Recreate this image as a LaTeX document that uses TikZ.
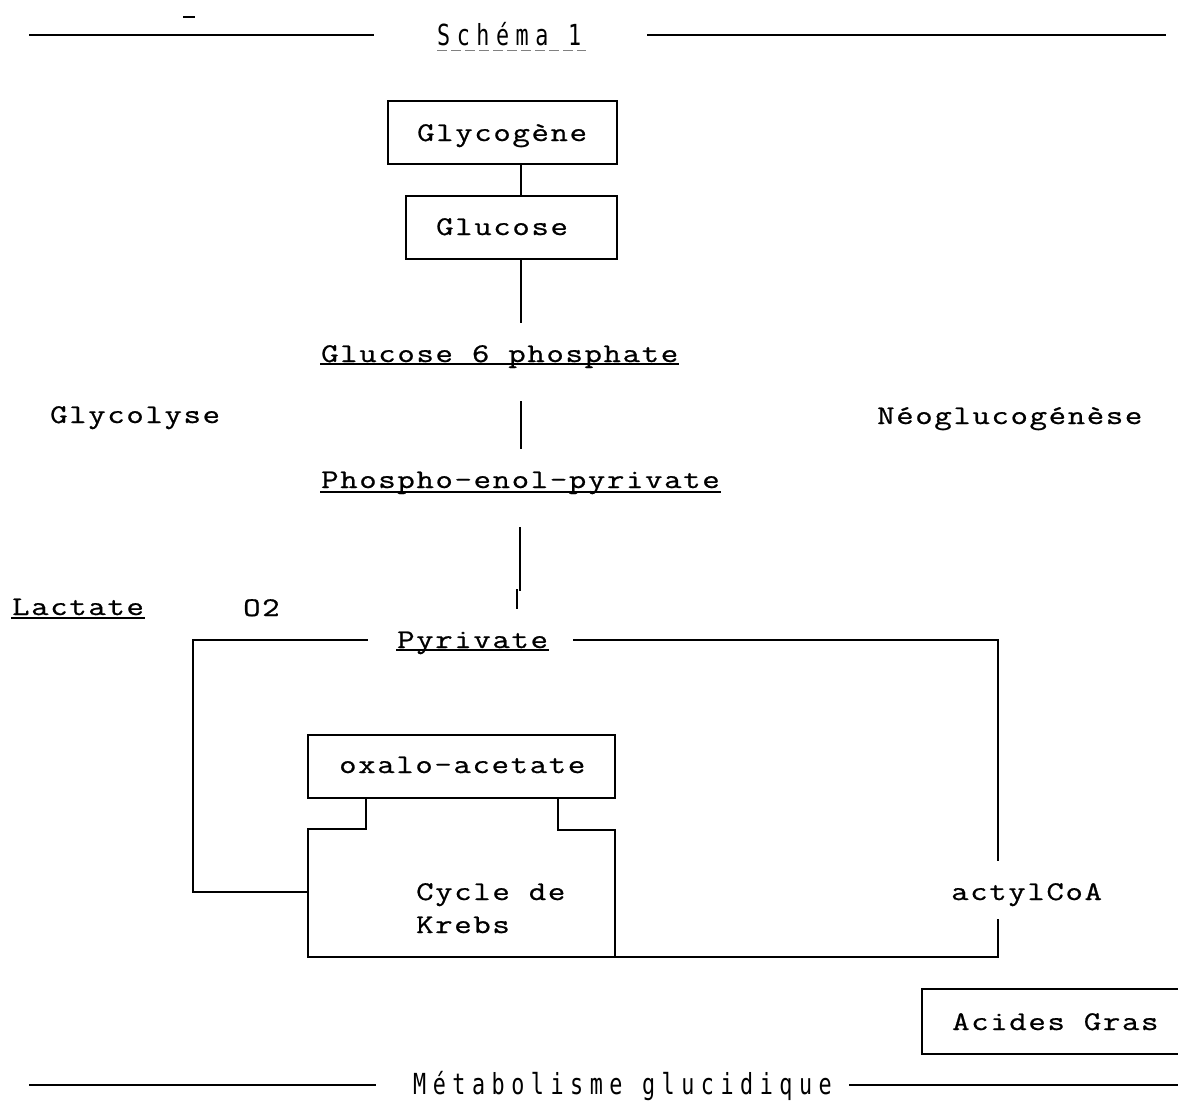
\documentclass[tikz,border=0pt]{standalone}
\usepackage{fontspec}
\newfontfamily\cour{Latin Modern Mono}[FakeStretch=1.25,LetterSpace=6.2,FakeBold=0.8]
\newfontfamily\narr{DejaVu Sans Mono}[FakeStretch=0.75,LetterSpace=22.5]
\begin{document}
\begin{tikzpicture}[x=1pt,y=-1pt,
  ln/.style={line width=1.3pt,line cap=rect},
  box/.style={draw,line width=1.3pt,inner sep=0,minimum width=#1,minimum height=63pt},
  txt/.style={inner sep=0,anchor=base west,font={\cour\fontsize{27}{31}\selectfont}},
  ttl/.style={inner sep=0,anchor=base west,font={\narr\fontsize{29}{33}\selectfont}}]
\path[use as bounding box,fill=white] (0,0) rectangle (1178,1101);
\clip (0,0) rectangle (1178,1101);
% title
\draw[ln] (30,35) -- (373,35);
\draw[ln] (648,35) -- (1165,35);
\draw[line width=2.2pt] (183,17) -- (195,17);
\node[ttl] (sch) at (437,45) {Schéma 1};
\draw[line width=0.8pt,gray,dash pattern=on 10pt off 4pt] (sch.base west |- 0,50) -- (586,50);
% boxes
\node[box=229pt] (gly) at (502.5,132.5) {};
\node[txt] (glyt) at (417,141) {Glycogène};
\node[box=211pt] (glu) at (511.5,227.5) {};
\node[txt] (glut) at (436,235) {Glucose};
\coordinate (vx) at (521,0);
\draw[ln] (gly.south -| vx) -- (glu.north -| vx);
\coordinate (g1) at (521,322);
\draw[ln] (glu.south -| vx) -- (g1);
% G6P
\node[txt] (g6p) at (321,362) {Glucose 6 phosphate};
\draw[ln] ([yshift=-2pt]g6p.base west) -- ([yshift=-2pt]g6p.base east);
\node[txt] (glyco) at (50,423) {Glycolyse};
\node[txt] (neo) at (877,424) {Néoglucogénèse};
\coordinate (g2) at (521,402);
\coordinate (g3) at (521,448);
\draw[ln] (g2) -- (g3);
\node[txt] (pep) at (321,488) {Phospho-enol-pyrivate};
\draw[ln] ([yshift=-4pt]pep.base west) -- ([yshift=-4pt]pep.base east);
\coordinate (p1) at (520,528);
\coordinate (p2) at (520,590);
\coordinate (p3) at (517,590);
\coordinate (p4) at (517,608);
\draw[ln] (p1) -- (p2);
\draw[ln] (p3) -- (p4);
% lactate, O2, pyruvate
\node[txt] (lac) at (12,615) {Lactate};
\draw[ln] ([yshift=-3pt]lac.base west) -- ([yshift=-3pt]lac.base east);
\node[txt] (o2) at (243,616) {O2};
\node[txt] (pyr) at (397,648) {Pyrivate};
\draw[ln] ([yshift=-2pt]pyr.base west) -- ([yshift=-2pt]pyr.base east);
% oxalo-acetate and Krebs
\node[box=307pt] (oxa) at (461.5,766.5) {};
\node[txt] (oxat) at (339,773) {oxalo-acetate};
\draw[ln] (oxa.south -| 366,0) -- (366,829) -- (308,829) -- (308,957) -- (615,957)
  -- (615,830) -- (558,830) -- (oxa.south -| 558,0);
\node[txt] (kr1) at (416,900) {Cycle de};
\node[txt] (kr2) at (416,933) {Krebs};
% left loop
\draw[ln] (367,640) -- (193,640) -- (193,892) -- (308,892);
% right loop
\node[txt] (acoa) at (951,900) {actylCoA};
\draw[ln] (574,640) -- (998,640) -- (998,860);
\draw[ln] (998,920) -- (998,957) -- (615,957);
% acides gras
\node[box=276pt,minimum height=65pt] (acg) at (1060,1021.5) {};
\node[txt] (acgt) at (952,1030) {Acides Gras};
% bottom title
\draw[ln] (30,1085) -- (375,1085);
\draw[ln] (850,1085) -- (1178,1085);
\node[ttl] (met) at (413,1094) {Métabolisme glucidique};
\end{tikzpicture}
\end{document}
